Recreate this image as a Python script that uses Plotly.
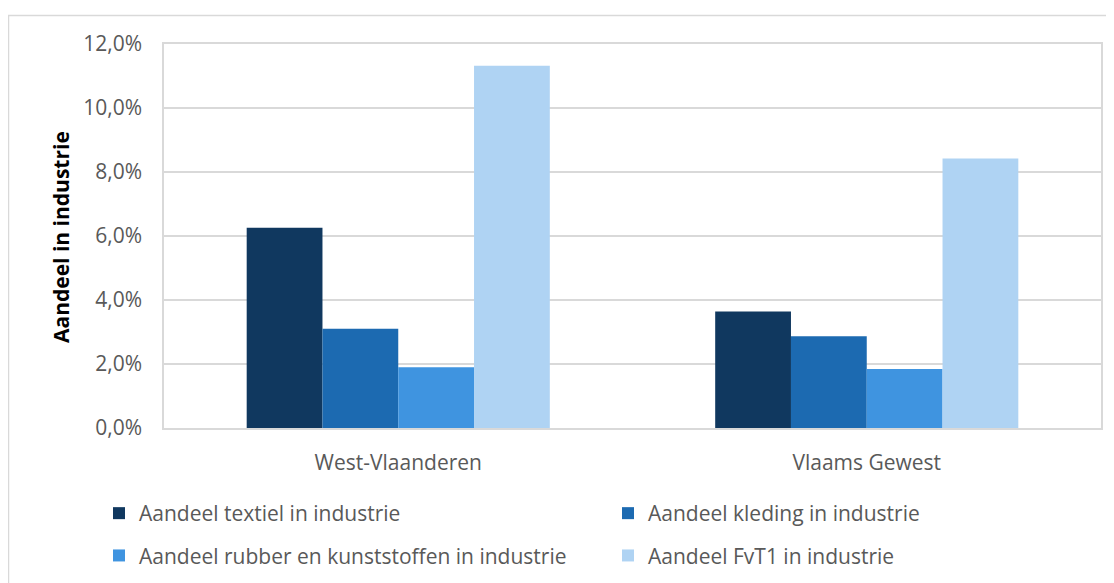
import plotly.graph_objects as go

categories = ["West-Vlaanderen", "Vlaams Gewest"]
series_names = [
    "Aandeel textiel in industrie",
    "Aandeel kleding in industrie",
    "Aandeel rubber en kunststoffen in industrie",
    "Aandeel FvT1 in industrie",
]
textiel = [0.0626, 0.0364]
kleding = [0.0310, 0.0287]
rubber = [0.0190, 0.0184]
fvt1 = [0.1132, 0.0842]
colors = ["#10385f", "#1c6ab1", "#3f94e0", "#afd3f3"]
legend_ids = ["legend", "legend2", "legend", "legend2"]
y_title = "Aandeel in industrie"

values = [textiel, kleding, rubber, fvt1]

FONT = "Open Sans"

fig = go.Figure()
for i, (name, vals, col, lg) in enumerate(zip(series_names, values, colors, legend_ids)):
    fig.add_trace(go.Bar(
        x=categories, y=vals, name=name,
        marker=dict(color=col, line=dict(width=0)),
        legend=lg, legendgroup=f"g{i}",
    ))

# page has an 8px body margin; work in page coordinates and convert
OFF = 8
W, H = 1114 - OFF, 583 - OFF
PL, PR, PT, PB = 164, 1101, 44, 428  # plot area in page px
ml, mr, mt, mb = PL - OFF, W - (PR - OFF), PT - OFF, H - (PB - OFF)
pw = W - ml - mr
ph = H - mt - mb

def px_x(x):
    return (x - PL) / pw

def px_y(y):
    return (PB - y) / ph

def cx(x):
    return (x - OFF) / W

def cy(y):
    return 1 - (y - OFF) / H

fig.update_layout(
    width=W, height=H,
    margin=dict(l=ml, r=mr, t=mt, b=mb, pad=0, autoexpand=False),
    paper_bgcolor="white", plot_bgcolor="white",
    separators=",.",
    barmode="group", bargap=0.353, bargroupgap=0,
    font=dict(family=FONT, size=21, color="#595959"),
    showlegend=True,
    legend=dict(
        orientation="v", xref="container", yref="container",
        x=cx(99), xanchor="left", y=cy(493), yanchor="top",
        font=dict(family=FONT, size=21, color="#595959"),
        tracegroupgap=12, bgcolor="rgba(0,0,0,0)", itemclick=False,
    ),
    legend2=dict(
        orientation="v", xref="container", yref="container",
        x=cx(608), xanchor="left", y=cy(493), yanchor="top",
        font=dict(family=FONT, size=21, color="#595959"),
        tracegroupgap=12, bgcolor="rgba(0,0,0,0)", itemclick=False,
    ),
    xaxis=dict(
        automargin=False,
        showline=True, linecolor="#d9d9d9", linewidth=1.5, mirror=True,
        showgrid=False, ticks="", ticklabelstandoff=15,
        tickfont=dict(family=FONT, size=21, color="#595959"),
    ),
    yaxis=dict(
        automargin=False,
        range=[0, 0.12], dtick=0.02, tickformat=".1%",
        showline=True, linecolor="#d9d9d9", linewidth=1.5, mirror=True,
        showgrid=True, gridcolor="#d9d9d9", gridwidth=1.5, zeroline=False,
        ticks="", ticklabelstandoff=16,
        tickfont=dict(family=FONT, size=21, color="#595959"),
    ),
    annotations=[dict(
        text=f"<b>{y_title}</b>", xref="paper", yref="paper",
        x=px_x(61), y=px_y(237), xanchor="center", yanchor="middle",
        textangle=-90, showarrow=False,
        font=dict(family=FONT, size=21, color="#000000"),
    )],
    shapes=[dict(
        type="rect", xref="paper", yref="paper",
        x0=px_x(8.5), x1=px_x(1130), y0=px_y(600), y1=px_y(15.5),
        line=dict(color="#d9d9d9", width=1.5), fillcolor="rgba(0,0,0,0)", layer="below",
    )],
)

fig.write_html("out.html")
